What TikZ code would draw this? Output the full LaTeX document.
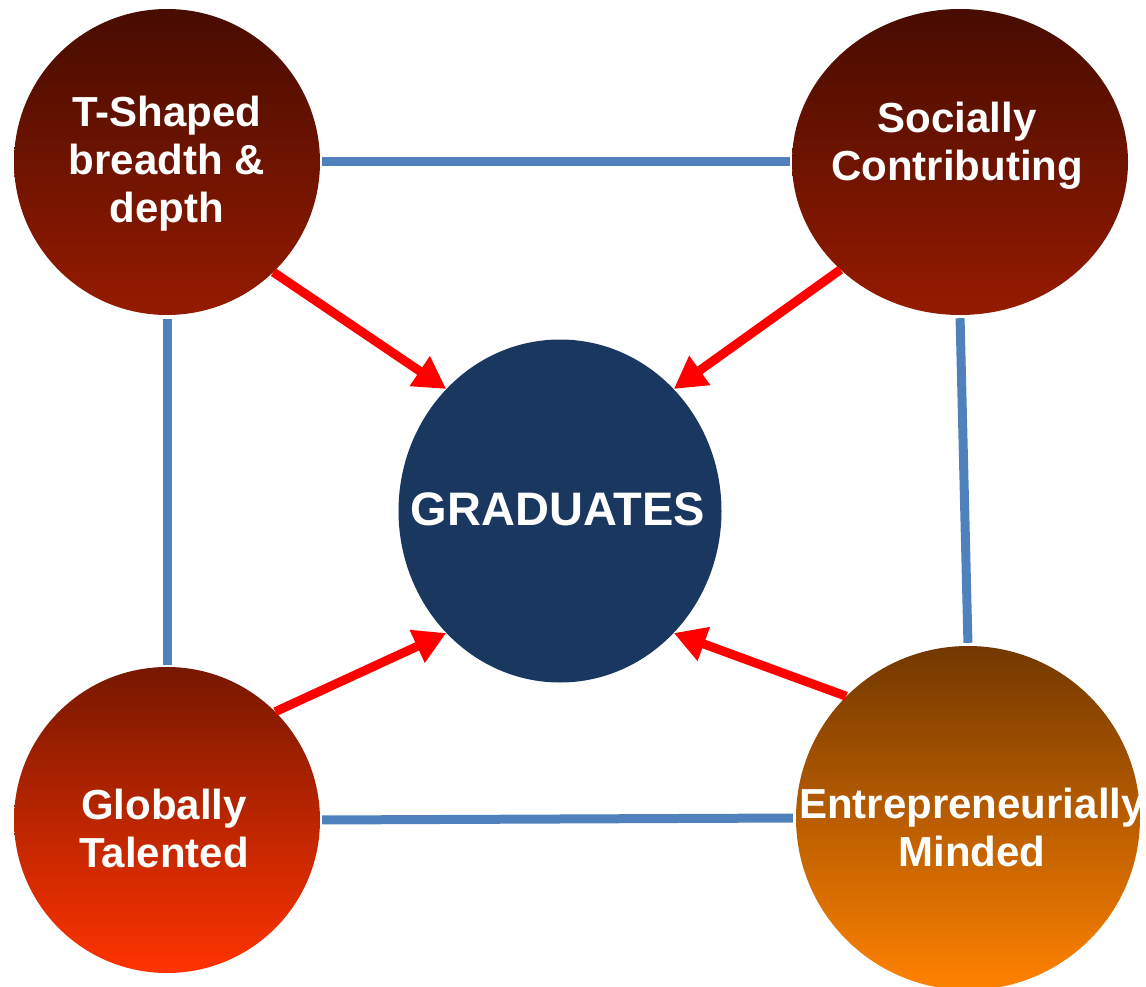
\documentclass[tikz,border=0pt]{standalone}
\usepackage{fontspec}
\setmainfont{Liberation Sans}
\usetikzlibrary{shapes.geometric,arrows.meta}
\definecolor{lineblue}{HTML}{4F81BD}
\definecolor{arrred}{HTML}{FF0000}
\definecolor{navy}{HTML}{1A3760}
\definecolor{tlA}{HTML}{470C00}
\definecolor{tlB}{HTML}{6E1500}
\definecolor{tlC}{HTML}{951B00}
\definecolor{blA}{HTML}{761800}
\definecolor{blB}{HTML}{CA2A00}
\definecolor{blC}{HTML}{FF3300}
\definecolor{brA}{HTML}{723800}
\definecolor{brB}{HTML}{CC6200}
\definecolor{brC}{HTML}{FF8200}
\begin{document}
\begin{tikzpicture}[x=1pt,y=-1pt,
  disc/.style={ellipse,inner sep=0pt,draw=none},
  darkdisc/.style={disc,top color=tlA,middle color=tlB,bottom color=tlC},
  lbl/.style={text=white,font=\bfseries\fontsize{42}{48}\selectfont,align=center,inner sep=0pt},
  link/.style={draw=lineblue,line width=9pt},
  arr/.style={draw=arrred,line width=9pt,-{Triangle[width=34pt,length=32pt]}}]
\useasboundingbox (0,0) rectangle (1146,987);
% circles
\node[darkdisc,minimum width=306pt,minimum height=306pt] (TL) at (167,162) {};
\node[darkdisc,minimum width=336pt,minimum height=306pt] (TR) at (960,162) {};
\node[disc,minimum width=306pt,minimum height=306pt,top color=blA,middle color=blB,bottom color=blC] (BL) at (167,820) {};
\node[disc,minimum width=344pt,minimum height=344pt,top color=brA,middle color=brB,bottom color=brC] (BR) at (968,818) {};
\node[disc,fill=navy,minimum width=323pt,minimum height=343pt] (G) at (560,511) {};
% blue links
\draw[link,shorten <=2pt,shorten >=2pt] (TL.east) -- (TR.west);
\draw[link,shorten <=4pt,shorten >=2pt] (TL.south) -- (BL.north);
\draw[link,shorten <=3pt,shorten >=3pt] (TR.south) -- (BR.north);
\draw[link,shorten <=2pt,shorten >=3pt] (BL.east) -- (BR.west);
% red arrows
\draw[arr] (TL.-46) -- (G.133);
\draw[arr] (TR.222) -- (G.47);
\draw[arr] (BL.45) -- (G.-133);
\draw[arr] (BR.135) -- (G.-47);
% labels
\node[lbl] (TLt) at (167,164) {T-Shaped\\breadth \&\\depth};
\node[lbl] (TRt) at (957,146) {Socially\\Contributing};
\node[lbl] (BLt) at (164,828) {Globally\\Talented};
\node[lbl] (BRt) at (972,827) {Entrepreneurially\\Minded};
\node[lbl,font=\bfseries\fontsize{47}{52}\selectfont] (Gt) at (558,509) {GRADUATES};
\end{tikzpicture}
\end{document}
